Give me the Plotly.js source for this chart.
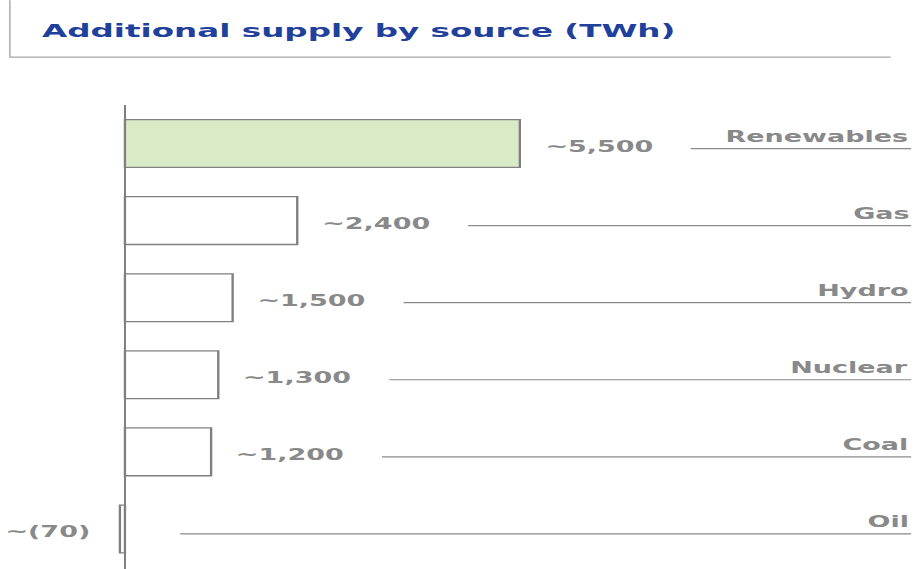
<!DOCTYPE html>
<html>
<head>
<meta charset="utf-8">
<script src="https://cdn.plot.ly/plotly-3.0.1.min.js"></script>
<style>
  html, body { margin: 0; padding: 0; background: #ffffff; overflow: hidden; }
  #wrap { width: 914px; height: 569px; overflow: hidden; }
  #chart { width: 508px; height: 569px; transform: scaleX(1.8); transform-origin: 0 0; }
</style>
</head>
<body>
<div id="wrap"><div id="chart"></div></div>
<script>
// ---- data ----
const categories = ["Renewables", "Gas", "Hydro", "Nuclear", "Coal", "Oil"];
const values = [5500, 2400, 1500, 1300, 1200, -70];
const valueLabels = ["~5,500", "~2,400", "~1,500", "~1,300", "~1,200", "~(70)"];
const chartTitle = "Additional supply by source (TWh)";

// ---- styles ----
const fillColors = categories.map((c, i) => i === 0 ? "#d9ebc6" : "#ffffff");
const gray = "#7f7f7f";
const textGray = "#898989";
const fontFam = "DejaVu Sans, Verdana, sans-serif";
const xMin = -1740, xMax = 10995;
const lineEnd = 10950;
const gapPos = 2380, gapZero = 770;

const barTrace = {
  type: "bar",
  orientation: "h",
  y: categories,
  x: values,
  width: 0.62,
  marker: { color: fillColors, line: { color: gray, width: 1.3 } },
  hoverinfo: "skip"
};

const annotations = [];
const shapes = [];
categories.forEach((cat, i) => {
  const v = values[i];
  annotations.push({
    x: v, y: cat, xref: "x", yref: "y",
    text: valueLabels[i],
    showarrow: false,
    xanchor: v >= 0 ? "left" : "right",
    xshift: v >= 0 ? 12 : -15,
    yshift: -3,
    font: { family: fontFam, size: 15, color: textGray, weight: "bold" }
  });
  annotations.push({
    x: 0.998, xref: "paper", y: cat, yref: "y",
    text: cat,
    showarrow: false,
    xanchor: "right",
    yshift: 7,
    font: { family: fontFam, size: 15, color: textGray, weight: "bold" }
  });
  const start = Math.max(v, 0) + (v > 0 ? gapPos : gapZero);
  shapes.push({
    type: "line", xref: "x", yref: "y",
    x0: start, x1: lineEnd,
    ysizemode: "pixel", yanchor: cat, y0: -5, y1: -5,
    line: { color: "#8a8a8a", width: 1.2 }
  });
});

// header frame lines
shapes.push({ type: "line", xref: "paper", yref: "paper",
  x0: 0.0108, x1: 0.0108, y0: 1.226, y1: 1.103,
  line: { color: "#a6a6a6", width: 0.8 } });
shapes.push({ type: "line", xref: "paper", yref: "paper",
  x0: 0.0108, x1: 0.974, y0: 1.103, y1: 1.103,
  line: { color: "#a6a6a6", width: 1.2 } });

const layout = {
  width: 508, height: 569,
  margin: { l: 0, r: 0, t: 105, b: 0, pad: 0 },
  paper_bgcolor: "#ffffff", plot_bgcolor: "#ffffff",
  showlegend: false,
  title: {
    text: chartTitle,
    x: 42 / 914, xanchor: "left", xref: "container",
    y: 1 - 31 / 569, yanchor: "middle", yref: "container",
    font: { family: fontFam, size: 18.1, color: "#21409a", weight: "bold" }
  },
  xaxis: {
    range: [xMin, xMax], showgrid: false, showticklabels: false, ticks: "",
    zeroline: true, zerolinecolor: gray, zerolinewidth: 1.3, showline: false, fixedrange: true
  },
  yaxis: {
    type: "category", range: [5.52, -0.5], showgrid: false, showticklabels: false,
    ticks: "", zeroline: false, showline: false, fixedrange: true
  },
  annotations: annotations,
  shapes: shapes
};

Plotly.newPlot("chart", [barTrace], layout, { displayModeBar: false, staticPlot: true });
</script>
</body>
</html>
